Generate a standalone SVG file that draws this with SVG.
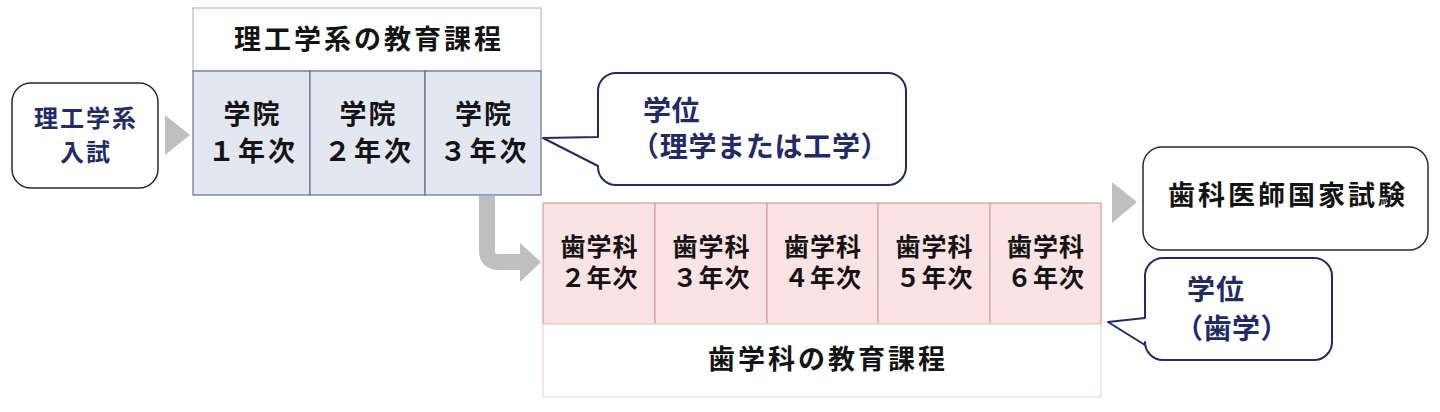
<svg xmlns="http://www.w3.org/2000/svg" width="1440" height="412" viewBox="0 0 1440 412">
<style>
text{font-family:"Noto Sans CJK JP","Noto Sans CJK SC",sans-serif;font-weight:700}
.navy{fill:#1f2b6b}
.blk{fill:#141414}
.c{text-anchor:middle}
.box{fill:#fff;stroke:#2a2a2a;stroke-width:1.5}
.bub{fill:#fff;stroke:#1f2b6b;stroke-width:2;stroke-linejoin:round}
.bcell{fill:#e2e7f2;stroke:#62719a;stroke-width:1.2}
.bhead{fill:#fff;stroke:#a3acc6;stroke-width:1}
.pcell{fill:#fbe2e3;stroke:#d8a0a4;stroke-width:1.2}
.phead{fill:#fff;stroke:#f0cdd0;stroke-width:1}
.arr{fill:#bfbfbf}
</style>
<rect width="1440" height="412" fill="#fff"/>
<g id="connectors">
<polygon class="arr" points="165,115 190,135 165,155"/>
<polygon class="arr" points="1112,182 1137,202 1112,223"/>
<path d="M487,196 V250 Q487,262 499,262 H522" fill="none" stroke="#bfbfbf" stroke-width="16"/>
<polygon class="arr" points="520,243 541,262 520,282"/>
</g>
<g id="entrance">
<rect class="box" x="12" y="83" width="146" height="105" rx="19"/>
<text class="navy c" x="86" y="127" font-size="24" letter-spacing="2">理工学系</text>
<text class="navy c" x="86" y="161" font-size="24" letter-spacing="2">入試</text>
</g>
<g id="science-course">
<rect class="bhead" x="193" y="8" width="348" height="63"/>
<text class="blk c" x="369" y="49" font-size="27" letter-spacing="3">理工学系の教育課程</text>
</g>
<g id="gakuin1">
<rect class="bcell" x="193" y="71" width="117" height="124"/>
<text class="blk c" x="252.5" y="124" font-size="27" letter-spacing="2">学院</text>
<text class="blk c" x="253" y="161" font-size="27" letter-spacing="3">１年次</text>
</g>
<g id="gakuin2">
<rect class="bcell" x="310" y="71" width="115" height="124"/>
<text class="blk c" x="368.5" y="124" font-size="27" letter-spacing="2">学院</text>
<text class="blk c" x="369" y="161" font-size="27" letter-spacing="3">２年次</text>
</g>
<g id="gakuin3">
<rect class="bcell" x="425" y="71" width="116" height="124"/>
<text class="blk c" x="484" y="124" font-size="27" letter-spacing="2">学院</text>
<text class="blk c" x="484.5" y="161" font-size="27" letter-spacing="3">３年次</text>
</g>
<g id="degree-science">
<path class="bub" d="M616,73 H888 A18,18 0 0 1 906,91 V167 A18,18 0 0 1 888,185 H616 A18,18 0 0 1 598,167 V166 L543,138 L598,137 V91 A18,18 0 0 1 616,73 Z"/>
<text class="navy" x="643" y="121" font-size="28" letter-spacing="0.5">学位</text>
<text class="navy" x="631" y="157" font-size="28" letter-spacing="0.7">（理学または工学）</text>
</g>
<g id="dental2">
<rect class="pcell" x="543" y="203" width="112" height="121"/>
<text class="blk c" x="599.5" y="256" font-size="25" letter-spacing="1">歯学科</text>
<text class="blk c" x="599.5" y="287" font-size="25" letter-spacing="1">２年次</text>
</g>
<g id="dental3">
<rect class="pcell" x="655" y="203" width="112" height="121"/>
<text class="blk c" x="711.5" y="256" font-size="25" letter-spacing="1">歯学科</text>
<text class="blk c" x="711.5" y="287" font-size="25" letter-spacing="1">３年次</text>
</g>
<g id="dental4">
<rect class="pcell" x="767" y="203" width="111" height="121"/>
<text class="blk c" x="823" y="256" font-size="25" letter-spacing="1">歯学科</text>
<text class="blk c" x="823" y="287" font-size="25" letter-spacing="1">４年次</text>
</g>
<g id="dental5">
<rect class="pcell" x="878" y="203" width="112" height="121"/>
<text class="blk c" x="934.5" y="256" font-size="25" letter-spacing="1">歯学科</text>
<text class="blk c" x="934.5" y="287" font-size="25" letter-spacing="1">５年次</text>
</g>
<g id="dental6">
<rect class="pcell" x="990" y="203" width="111" height="121"/>
<text class="blk c" x="1046" y="256" font-size="25" letter-spacing="1">歯学科</text>
<text class="blk c" x="1046" y="287" font-size="25" letter-spacing="1">６年次</text>
</g>
<g id="dental-course">
<rect class="phead" x="543" y="324" width="558" height="73"/>
<text class="blk c" x="828" y="369" font-size="27" letter-spacing="3">歯学科の教育課程</text>
</g>
<g id="national-exam">
<rect class="box" x="1143" y="147" width="285" height="103" rx="19"/>
<text class="blk c" x="1288" y="205" font-size="27" letter-spacing="3">歯科医師国家試験</text>
</g>
<g id="degree-dental">
<path class="bub" d="M1163,258 H1314 A18,18 0 0 1 1332,276 V342 A18,18 0 0 1 1314,360 H1163 A18,18 0 0 1 1145,342 V345 L1108,322 L1145,318 V276 A18,18 0 0 1 1163,258 Z"/>
<text class="navy" x="1187" y="300" font-size="28" letter-spacing="1">学位</text>
<text class="navy" x="1175" y="339" font-size="28" letter-spacing="0.5">（歯学）</text>
</g>
</svg>
